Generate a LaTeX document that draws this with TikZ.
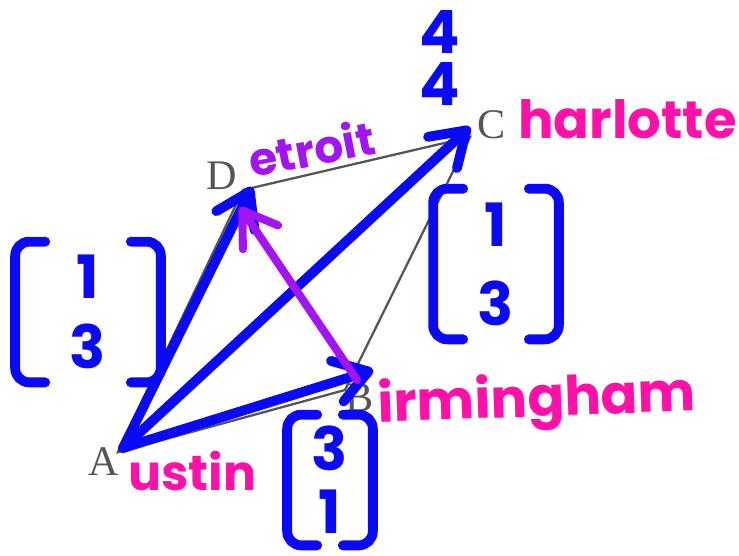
\documentclass[tikz,border=0pt]{standalone}
\usepackage{fontspec}
\usepackage{xcolor}
\usepackage{tikz}
\usetikzlibrary{arrows.meta,positioning}
\newfontfamily\hand{Poppins}
\newfontfamily\serifx{Liberation Serif}
\definecolor{bluex}{HTML}{0A0AF5}
\definecolor{pinkx}{HTML}{FF10A8}
\definecolor{purplex}{HTML}{A214F2}
\definecolor{grayx}{HTML}{555555}
\tikzset{
  side/.style={grayx,line width=1.3pt},
  vx/.style={text=grayx,font=\serifx\fontsize{24}{24}\selectfont,inner sep=0pt},
  pen/.style={bluex,line width=5.6pt,line cap=round,line join=round},
  ar/.style={pen,-{Straight Barb[length=6.5mm,width=8.5mm,round]}},
  arp/.style={ar,purplex,line width=4.6pt},
  city/.style={text=pinkx,font=\hand\bfseries\fontsize{28}{28}\selectfont,anchor=base west,inner sep=0pt},
  vec/.style={text=bluex,font=\hand\bfseries\fontsize{34}{40}\selectfont,align=center,inner sep=0pt}
}
\begin{document}
\begin{tikzpicture}[x=0.02cm,y=-0.02cm]
\fill[white] (0,0) rectangle (739,555);
\useasboundingbox (0,0) rectangle (739,555);
% parallelogram
\coordinate (A) at (118,452);
\coordinate (B) at (345,390);
\coordinate (C) at (470,137);
\coordinate (D) at (243,190);
\draw[side] (A) -- (D) -- (C) -- (B) -- cycle;
\node[vx] (la) at (104,462) {A};
\node[vx] (lb) at (360,398) {B};
\node[vx] (lc) at (492,125) {C};
\node[vx] (ld) at (222,176) {D};
% arrows
\coordinate (o) at (123,448);
\coordinate (tb) at (373,370);
\coordinate (tc) at (470,127);
\coordinate (td) at (252,187);
\coordinate (sb) at (357,380);
\coordinate (sd) at (240,207);
\draw[ar] (o) -- (td);
\draw[ar] (o) -- (tc);
\draw[ar] (o) -- (tb);
\draw[arp] (sb) -- (sd);
% city names
\node[city] (austin) at (128,490) {ustin};
\node[city,font=\hand\bfseries\fontsize{31}{31}\selectfont,rotate=2] (birm) at (378,422) {irmingham};
\node[city,font=\hand\bfseries\fontsize{30}{30}\selectfont] (charl) at (518,138) {harlotte};
\node[city,text=purplex,font=\hand\bfseries\fontsize{26}{26}\selectfont,rotate=11] (detr) at (252,178) {etroit};
% vectors
\node[vec,minimum width=2.9cm,minimum height=2.8cm] (vl) at (88,312) {1\\3};
\node[vec,minimum width=2.5cm,minimum height=3.0cm] (vr) at (496,264) {1\\[5pt]3};
\node[vec,minimum width=1.7cm,minimum height=2.6cm] (vb) at (330,480) {3\\[-4pt]1};
\node[vec] (vt) at (440,58) {4\\[-10pt]4};
\foreach \v in {vl,vr,vb}{
  \draw[pen,rounded corners=8pt] ([xshift=.6cm]\v.north west) -- (\v.north west) -- (\v.south west) -- ([xshift=.6cm]\v.south west);
  \draw[pen,rounded corners=8pt] ([xshift=-.6cm]\v.north east) -- (\v.north east) -- (\v.south east) -- ([xshift=-.6cm]\v.south east);
}
\end{tikzpicture}
\end{document}
